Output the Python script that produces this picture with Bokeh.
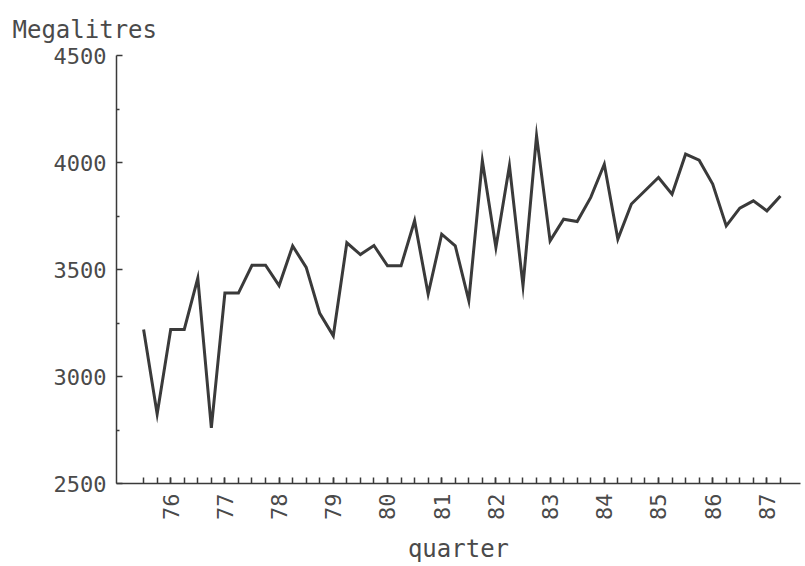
import math
from bokeh.plotting import figure
from bokeh.models import FixedTicker, Range1d, Title
from bokeh.embed import file_html
from bokeh.resources import INLINE

# Quarterly series, starting 1975 Q3 (megalitres)
start_year = 1975.5
values = [3220, 2825, 3220, 3220, 3460, 2760, 3390, 3390, 3520, 3520,
          3425, 3610, 3510, 3295, 3190, 3625, 3570, 3612, 3517, 3517,
          3728, 3385, 3665, 3611, 3355, 4008, 3603, 3985, 3424, 4125,
          3634, 3735, 3724, 3837, 3992, 3642, 3806, 3868, 3930, 3852,
          4039, 4011, 3899, 3704, 3787, 3821, 3774, 3844]
quarters = [start_year + 0.25 * i for i in range(len(values))]

year_ticks = [1976, 1977, 1978, 1979, 1980, 1981, 1982, 1983, 1984, 1985, 1986, 1987]
year_labels = ["76", "77", "78", "79", "80", "81", "82", "83", "84", "85", "86", "87"]
y_ticks = [2500, 3000, 3500, 4000, 4500]
y_minor = [2750, 3250, 3750, 4250]

FONT = "DejaVu Sans Mono"
INK = "#3a3a3a"
TXT = "#4a4a4a"

p = figure(width=805, height=566,
           x_range=Range1d(1975.0, 1987.62), y_range=Range1d(2500, 4500),
           output_backend="svg", toolbar_location=None,
           min_border_left=116, min_border_right=5,
           min_border_top=55, min_border_bottom=83)

p.line(quarters, values, line_color=INK, line_width=3, line_join="miter")

p.outline_line_color = None
p.grid.visible = False
p.background_fill_color = "white"
p.border_fill_color = "white"

# x axis
xa = p.xaxis[0]
xa.ticker = FixedTicker(ticks=year_ticks, minor_ticks=quarters)
xa.major_label_overrides = {y: l for y, l in zip(year_ticks, year_labels)}
xa.major_label_orientation = math.pi / 2
xa.major_tick_in = 6
xa.major_tick_out = 0
xa.minor_tick_in = 6
xa.minor_tick_out = 0
xa.axis_label = "quarter"
xa.axis_label_text_font = FONT
xa.axis_label_text_font_size = "24px"
xa.axis_label_text_font_style = "normal"
xa.axis_label_text_color = TXT
xa.axis_label_standoff = 12
xa.major_label_standoff = 10

# y axis
ya = p.yaxis[0]
ya.ticker = FixedTicker(ticks=y_ticks, minor_ticks=y_minor)
ya.major_tick_in = 6
ya.major_tick_out = 0
ya.minor_tick_in = 3
ya.minor_tick_out = 0
ya.major_label_standoff = 10

for ax in (xa, ya):
    ax.axis_line_color = INK
    ax.axis_line_width = 1.5
    ax.major_tick_line_color = INK
    ax.minor_tick_line_color = INK
    ax.major_tick_line_width = 1.5
    ax.minor_tick_line_width = 1.5
    ax.major_label_text_font = FONT
    ax.major_label_text_font_size = "22px"
    ax.major_label_text_color = TXT

p.title = Title(text="Megalitres", align="left", offset=-104, standoff=23,
                text_font=FONT, text_font_size="24px",
                text_font_style="normal", text_color=TXT)

open("out.html", "w").write(file_html(p, INLINE))
